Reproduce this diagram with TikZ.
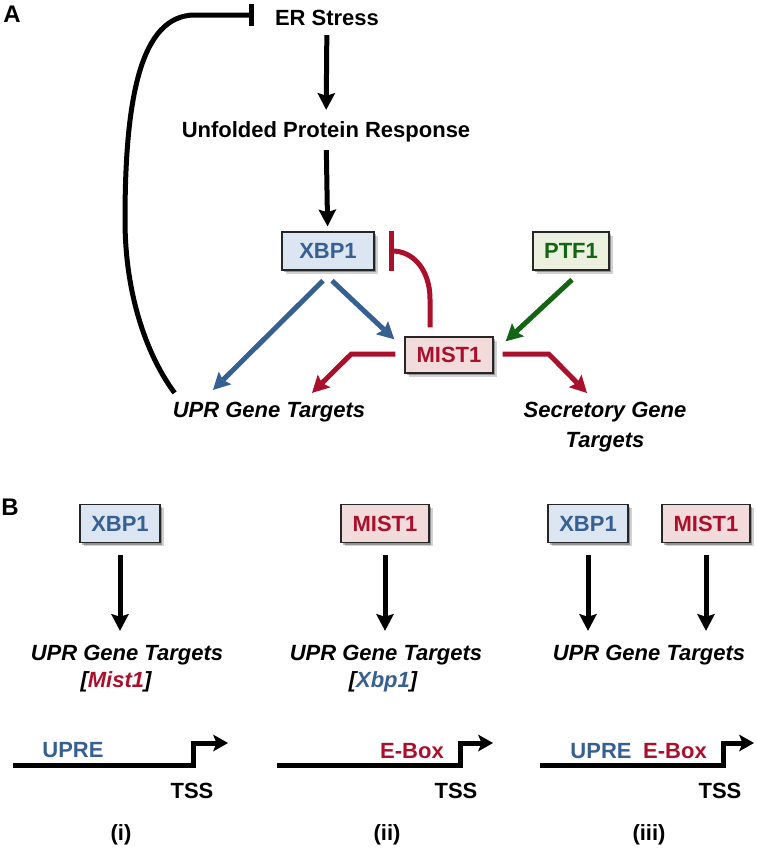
\documentclass[tikz,border=0pt]{standalone}
\usepackage{fontspec}
\setmainfont{Liberation Sans}
\usetikzlibrary{arrows.meta,calc,shadows}
\definecolor{xblue}{RGB}{55,96,146}
\definecolor{xbluefill}{RGB}{220,230,242}
\definecolor{mred}{RGB}{170,16,44}
\definecolor{mredfill}{RGB}{242,220,219}
\definecolor{pgreen}{RGB}{20,100,20}
\definecolor{pgreenfill}{RGB}{235,241,222}
\tikzset{
  txt/.style={inner sep=0pt, font=\fontsize{22}{26}\selectfont\bfseries, text height=15.8pt, text depth=0pt},
  itxt/.style={txt, font=\fontsize{22}{26}\selectfont\bfseries\itshape},
  lab/.style={inner sep=0pt, font=\fontsize{24}{28}\selectfont\bfseries, text height=17pt, text depth=0pt},
  box/.style={draw=black!85, line width=1.4pt, minimum height=38pt, inner sep=0pt,
    text height=15.8pt, text depth=0pt, font=\fontsize{22}{26}\selectfont\bfseries,
    drop shadow={shadow xshift=3.5pt, shadow yshift=-3.5pt, fill=black, opacity=0.18},
    drop shadow={shadow xshift=2pt, shadow yshift=-2pt, fill=black, opacity=0.3}},
  xbox/.style={box, fill=xbluefill, text=xblue, minimum width=80pt},
  mbox/.style={box, fill=mredfill, text=mred, minimum width=88pt},
  pbox/.style={box, fill=pgreenfill, text=pgreen, minimum width=76pt},
  arr/.style={line width=5pt, -{Stealth[length=17pt,width=18pt,inset=3pt,line width=0pt]}},
  gene/.style={line width=5pt, line join=miter, -{Stealth[length=15pt,width=17pt,inset=3.5pt,line width=0pt]}},
  inh/.style={line width=5pt},
}
\begin{document}
\begin{tikzpicture}[x=1pt,y=1pt]
\useasboundingbox (0,0) rectangle (757,-849);
% ---------- Panel A ----------
\node[lab] (labA) at (12,-14) {A};
\node[txt] (er) at (327,-17.5) {ER Stress};
\node[txt] (upr) at (326,-129.5) {Unfolded Protein Response};
\node[xbox, minimum width=92pt] (xbpA) at (328,-251) {XBP1};
\node[pbox] (ptf) at (571,-251) {PTF1};
\node[mbox, minimum height=36pt] (mistA) at (449,-355) {MIST1};
\node[itxt] (uprgA) at (269,-410) {UPR Gene Targets};
\node[inner sep=0pt, font=\fontsize{22}{30}\selectfont\bfseries\itshape, align=center, anchor=north] (sec) at (605,-402) {Secretory Gene\\Targets};

\draw[arr, shorten <=9.6pt, shorten >=11.6pt] (er) -- (upr);
\draw[arr, shorten <=12.6pt, shorten >=5pt] (upr) -- (xbpA);

\draw[arr, xblue] ($(xbpA.south)+(-5,-10)$) -- ($(uprgA.north)+(-56,12)$);
\draw[arr, xblue] ($(xbpA.south)+(4,-10)$) -- ($(mistA.north west)+(-10,-3)$);
\draw[arr, pgreen] ($(ptf.south)+(1,-9)$) -- ($(mistA.north east)+(12,-5)$);

\draw[inh, mred, -{Bar[width=40pt]}] ($(mistA.north)+(-19,9)$) -- ++(0,28)
  .. controls +(0,30) and +(24,0) .. ($(xbpA.east)+(14,0)$);

\draw[arr, mred, line join=miter] ($(mistA.west)+(-9,1)$) -- ++(-44,0) -- ($(uprgA.north)+(43,9)$);
\draw[arr, mred, line join=miter] ($(mistA.east)+(9,1)$) -- ++(46,0) -- ($(sec.north)+(-18,9)$);

\draw[inh, -{Bar[width=22pt]}] ($(uprgA.north west)+(2,9)$)
  .. controls (150,-360) and (125,-300) .. (125,-220)
  .. controls (125,-100) and (140,-15) .. (195,-15)
  -- ($(er.west)+(-21,2.5)$);

% ---------- Panel B ----------
\node[lab] (labB) at (10,-507) {B};
\node[xbox] (xbpB1) at (120,-523.5) {XBP1};
\node[mbox] (mistB2) at (385,-523.5) {MIST1};
\node[xbox] (xbpB3) at (588,-523.5) {XBP1};
\node[mbox] (mistB3) at (706,-523.5) {MIST1};

\node[itxt] (uprgB1) at (127,-652.5) {UPR Gene Targets};
\node[itxt] (uprgB2) at (386,-652.5) {UPR Gene Targets};
\node[itxt] (uprgB3) at (649,-652.5) {UPR Gene Targets};
\node[itxt] (gen1) at (116,-680) {[\textcolor{mred}{Mist1}]};
\node[itxt] (gen2) at (383,-680) {[\textcolor{xblue}{Xbp1}]};

\draw[arr, shorten <=12pt, shorten >=13.6pt] (xbpB1.south) -- (xbpB1.south |- uprgB1.north);
\draw[arr, shorten <=12pt, shorten >=13.6pt] (mistB2.south) -- (mistB2.south |- uprgB2.north);
\draw[arr, shorten <=12pt, shorten >=13.6pt] (xbpB3.south) -- (xbpB3.south |- uprgB3.north);
\draw[arr, shorten <=12pt, shorten >=13.6pt] (mistB3.south) -- (mistB3.south |- uprgB3.north);

% gene lines
\coordinate (s1) at (13,-765);  \coordinate (c1) at (193,-765);
\coordinate (s2) at (277,-765); \coordinate (c2) at (460,-765);
\coordinate (s3) at (540,-765); \coordinate (c3) at (723,-765);
\draw[gene] (s1) -- (c1) -- ++(0,22) -- ++(35,0);
\draw[gene] (s2) -- (c2) -- ++(0,22) -- ++(33,0);
\draw[gene] (s3) -- (c3) -- ++(0,22) -- ++(31,0);

\node[txt, text=xblue] (upre1) at (73,-750) {UPRE};
\node[txt, text=mred] (ebox2) at (412,-751) {E-Box};
\node[txt, text=xblue] (upre3) at (601,-751) {UPRE};
\node[txt, text=mred] (ebox3) at (675,-751) {E-Box};

\node[txt] (tss1) at (192,-791) {TSS};
\node[txt] (tss2) at (456,-791) {TSS};
\node[txt] (tss3) at (720,-791) {TSS};

\node[txt] (lab1) at (121,-833) {(i)};
\node[txt] (lab2) at (387,-833) {(ii)};
\node[txt] (lab3) at (649,-833) {(iii)};
\end{tikzpicture}
\end{document}
